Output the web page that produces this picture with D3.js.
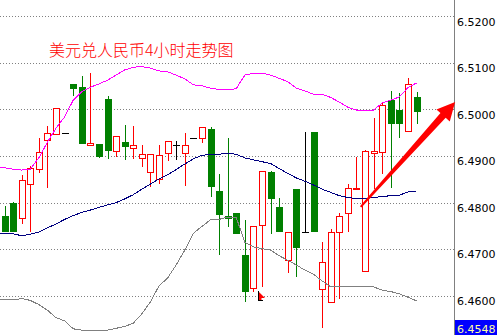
<!DOCTYPE html>
<html>
<head>
<meta charset="utf-8">
<script src="https://cdnjs.cloudflare.com/ajax/libs/d3/7.8.5/d3.min.js"></script>
<style>
  body { margin: 0; background: #fff; }
  svg { display: block; }
</style>
</head>
<body>
<div id="chart"></div>
<script>
var width = 498;
var height = 335;

var title = "美元兑人民币4小时走势图";

// 4h candles
var openP = [6.4772, 6.4801, 6.4767, 6.4840, 6.4874, 6.4935, 6.4948, 6.4950, 6.5056, 6.5049,
  6.4925, 6.4928, 6.5024, 6.4911, 6.4931, 6.4919, 6.4896, 6.4867, 6.4851, 6.4908,
  6.4925, 6.4907, 6.4940, 6.4940, 6.4959, 6.4826, 6.4772, 6.4778, 6.4689, 6.4617,
  6.4754, 6.4867, 6.4792, 6.4677, 6.4830, 6.4737, 6.4953, 6.4615, 6.4587, 6.4737,
  6.4778, 6.4831, 6.4655, 6.4907, 6.4910, 6.5021, 6.5000, 6.4954, 6.5027];
var closeP = [6.4741, 6.4741, 6.4850, 6.4875, 6.4909, 6.4950, 6.5004, 6.4950, 6.5048, 6.4930,
  6.4930, 6.4902, 6.4915, 6.4944, 6.4923, 6.4924, 6.4905, 6.4905, 6.4903, 6.4933,
  6.4925, 6.4924, 6.4940, 6.4963, 6.4837, 6.4776, 6.4769, 6.4736, 6.4612, 6.4751,
  6.4869, 6.4812, 6.4739, 6.4737, 6.4706, 6.4737, 6.4739, 6.4673, 6.4737, 6.4772,
  6.4832, 6.4832, 6.4912, 6.4911, 6.5010, 6.4971, 6.4971, 6.5055, 6.4998];
var highP = [6.4794, 6.4802, 6.4860, 6.4880, 6.4939, 6.4966, 6.5005, 6.4950, 6.5056, 6.5073,
  6.5079, 6.4928, 6.5030, 6.4944, 6.4968, 6.4966, 6.4925, 6.4905, 6.4925, 6.4934,
  6.4934, 6.4951, 6.4940, 6.4964, 6.4964, 6.4863, 6.4939, 6.4778, 6.4764, 6.4751,
  6.4869, 6.4868, 6.4811, 6.4737, 6.4830, 6.4953, 6.4953, 6.4717, 6.4744, 6.4778,
  6.4841, 6.4900, 6.4914, 6.4982, 6.5015, 6.5041, 6.5037, 6.5069, 6.5039];
var lowP = [6.4740, 6.4740, 6.4757, 6.4741, 6.4867, 6.4835, 6.4948, 6.4950, 6.5032, 6.4930,
  6.4925, 6.4899, 6.4896, 6.4902, 6.4895, 6.4896, 6.4880, 6.4837, 6.4843, 6.4893,
  6.4895, 6.4839, 6.4940, 6.4931, 6.4815, 6.4690, 6.4751, 6.4736, 6.4590, 6.4612,
  6.4622, 6.4736, 6.4739, 6.4653, 6.4644, 6.4737, 6.4739, 6.4534, 6.4587, 6.4597,
  6.4739, 6.4831, 6.4655, 6.4833, 6.4865, 6.4834, 6.4941, 6.4954, 6.4971];

// bollinger bands, first value belongs to the candle just off the left edge
var upper = [6.4879, 6.4876, 6.4873, 6.4871, 6.4873, 6.4897, 6.4931, 6.4961, 6.4985, 6.5021, 6.5039,
  6.5049, 6.5056, 6.5064, 6.5075, 6.5086, 6.5092, 6.5093, 6.5090, 6.5084, 6.5082,
  6.5075, 6.5067, 6.5054, 6.5052, 6.5047, 6.5044, 6.5043, 6.5046, 6.5075, 6.5079,
  6.5079, 6.5075, 6.5068, 6.5061, 6.5047, 6.5041, 6.5034, 6.5034, 6.5027, 6.5017,
  6.5006, 6.5000, 6.5000, 6.5000, 6.5015, 6.5021, 6.5028, 6.5048, 6.5058];
var middle = [6.4736, 6.4735, 6.4734, 6.4730, 6.4733, 6.4738, 6.4747, 6.4755, 6.4765, 6.4773, 6.4780,
  6.4785, 6.4791, 6.4796, 6.4801, 6.4809, 6.4818, 6.4830, 6.4841, 6.4852, 6.4861,
  6.4872, 6.4884, 6.4895, 6.4903, 6.4904, 6.4905, 6.4907, 6.4905, 6.4897, 6.4893,
  6.4889, 6.4885, 6.4874, 6.4864, 6.4854, 6.4847, 6.4839, 6.4830, 6.4823, 6.4816,
  6.4812, 6.4810, 6.4810, 6.4812, 6.4814, 6.4816, 6.4817, 6.4824, 6.4826];
var lower = [6.4592, 6.4592, 6.4592, 6.4595, 6.4591, 6.4582, 6.4570, 6.4554, 6.4547, 6.4530, 6.4527,
  6.4527, 6.4527, 6.4527, 6.4531, 6.4535, 6.4542, 6.4562, 6.4588, 6.4622, 6.4639,
  6.4667, 6.4699, 6.4735, 6.4750, 6.4764, 6.4765, 6.4770, 6.4769, 6.4716, 6.4706,
  6.4702, 6.4699, 6.4687, 6.4677, 6.4667, 6.4656, 6.4647, 6.4633, 6.4620, 6.4620,
  6.4620, 6.4620, 6.4620, 6.4620, 6.4613, 6.4610, 6.4605, 6.4598, 6.4590];

var tickValues = [6.46, 6.47, 6.48, 6.49, 6.50, 6.51, 6.52];
var lastLabel = 6.4548;

// arrow annotation, [candle index, price]
var arrowFrom = [41.5, 6.4792];
var arrowTo = [52.5, 6.5017];

var axisX = 454;

var svg = d3.select("#chart")
  .append("svg")
  .attr("width", width)
  .attr("height", height);

var x = d3.scaleLinear().domain([0, openP.length - 1]).range([4.5, 416.5]);
var y = d3.scaleLinear().domain([6.46, 6.52]).range([296.2, 16.9]);

// dotted grid
svg.append("g")
  .selectAll("line")
  .data(tickValues)
  .enter()
  .append("line")
  .attr("x1", 0)
  .attr("x2", axisX)
  .attr("y1", function(d) { return Math.floor(y(d)) + 0.5; })
  .attr("y2", function(d) { return Math.floor(y(d)) + 0.5; })
  .attr("stroke", "#808080")
  .attr("stroke-dasharray", "1,2")
  .attr("shape-rendering", "crispEdges");

// title
svg.append("text")
  .attr("x", 49)
  .attr("y", 56)
  .attr("fill", "#ff0000")
  .style("font-family", "'Noto Sans CJK SC', sans-serif")
  .style("font-size", "16px")
  .style("font-weight", 300)
  .text(title);

// candles
var candles = svg.append("g").attr("shape-rendering", "crispEdges");

openP.forEach(function(o, i) {
  var c = closeP[i];
  var cx = Math.round(x(i));
  var top = Math.round(y(Math.max(o, c)));
  var bot = Math.round(y(Math.min(o, c)));
  var hi = Math.round(y(highP[i]));
  var lo = Math.round(y(lowP[i]));

  if (c > o) {
    // bullish: hollow red
    if (hi < top) {
      candles.append("line").attr("x1", cx + 0.5).attr("x2", cx + 0.5)
        .attr("y1", hi).attr("y2", top).attr("stroke", "#ff0000");
    }
    if (lo > bot) {
      candles.append("line").attr("x1", cx + 0.5).attr("x2", cx + 0.5)
        .attr("y1", bot).attr("y2", lo + 1).attr("stroke", "#ff0000");
    }
    candles.append("rect")
      .attr("x", cx - 2.5)
      .attr("y", top + 0.5)
      .attr("width", 6)
      .attr("height", Math.max(bot - top, 1))
      .attr("fill", "#ffffff")
      .attr("stroke", "#ff0000");
  } else if (c < o) {
    // bearish: solid green
    candles.append("line").attr("x1", cx + 0.5).attr("x2", cx + 0.5)
      .attr("y1", hi).attr("y2", lo + 1).attr("stroke", "#008000");
    candles.append("rect")
      .attr("x", cx - 3)
      .attr("y", top)
      .attr("width", 7)
      .attr("height", bot - top + 1)
      .attr("fill", "#008000");
  } else {
    // doji
    candles.append("line").attr("x1", cx + 0.5).attr("x2", cx + 0.5)
      .attr("y1", hi).attr("y2", lo + 1).attr("stroke", "#000000");
    candles.append("line").attr("x1", cx - 3).attr("x2", cx + 4)
      .attr("y1", top + 0.5).attr("y2", top + 0.5).attr("stroke", "#000000");
  }
});

// bands
var band = d3.line()
  .x(function(d, i) { return x(i - 1); })
  .y(function(d) { return y(d); });

[[upper, "#ff00ff"], [middle, "#000080"], [lower, "#808080"]].forEach(function(b) {
  svg.append("path")
    .datum(b[0])
    .attr("d", band)
    .attr("fill", "none")
    .attr("stroke", b[1])
    .attr("stroke-width", 1)
    .attr("shape-rendering", "crispEdges");
});

// right price axis
svg.append("line")
  .attr("x1", axisX + 0.5).attr("x2", axisX + 0.5)
  .attr("y1", 0).attr("y2", height)
  .attr("stroke", "#808080");

var yAxis = d3.axisRight(y)
  .tickValues(tickValues)
  .tickSize(0)
  .tickPadding(3)
  .tickFormat(d3.format(".4f"));

var axisG = svg.append("g")
  .attr("transform", "translate(" + axisX + ",0)")
  .call(yAxis);
axisG.select(".domain").remove();
axisG.selectAll("text")
  .attr("dy", "0.75em")
  .attr("fill", "#000")
  .style("font-family", "'DejaVu Sans', sans-serif")
  .style("font-size", "11px");

// current price box
var boxTop = Math.floor(y(lastLabel));
svg.append("rect")
  .attr("x", axisX + 1)
  .attr("y", boxTop)
  .attr("width", width - axisX - 2)
  .attr("height", 16)
  .attr("fill", "#0000ff");
svg.append("text")
  .attr("x", axisX + 3)
  .attr("y", boxTop + 12.5)
  .attr("fill", "#ffffa0")
  .style("font-family", "'DejaVu Sans', sans-serif")
  .style("font-size", "11px")
  .text(d3.format(".4f")(lastLabel));

// mouse pointer left on the chart
var px = Math.round(x(29.55)), py = Math.round(y(6.4611));
svg.append("path")
  .attr("d", "M" + px + "," + py + " l7,7 l-3.5,0 l0,2.5 l-3.5,0 Z")
  .attr("fill", "#ff0000");
svg.append("path")
  .attr("d", "M" + (px + 0.5) + "," + py + " l0,9.5 l4,0")
  .attr("fill", "none")
  .attr("stroke", "#000")
  .attr("shape-rendering", "crispEdges");

// red arrow
var t0 = [x(arrowFrom[0]), y(arrowFrom[1])];
var t1 = [x(arrowTo[0]), y(arrowTo[1])];
var dx = t1[0] - t0[0], dy = t1[1] - t0[1];
var len = Math.sqrt(dx * dx + dy * dy);
var ux = dx / len, uy = dy / len;
var nx = -uy, ny = ux;
var headLen = 18, headHalf = 9, neckHalf = 3.5, tailHalf = 1;
var bx = t1[0] - ux * headLen, by = t1[1] - uy * headLen;
var pts = [
  [t0[0] - nx * tailHalf, t0[1] - ny * tailHalf],
  [bx - nx * neckHalf, by - ny * neckHalf],
  [bx - nx * headHalf, by - ny * headHalf],
  t1,
  [bx + nx * headHalf, by + ny * headHalf],
  [bx + nx * neckHalf, by + ny * neckHalf],
  [t0[0] + nx * tailHalf, t0[1] + ny * tailHalf]
];
svg.append("polygon")
  .attr("points", pts.map(function(p) { return p.join(","); }).join(" "))
  .attr("fill", "#ff0000");
</script>
</body>
</html>
